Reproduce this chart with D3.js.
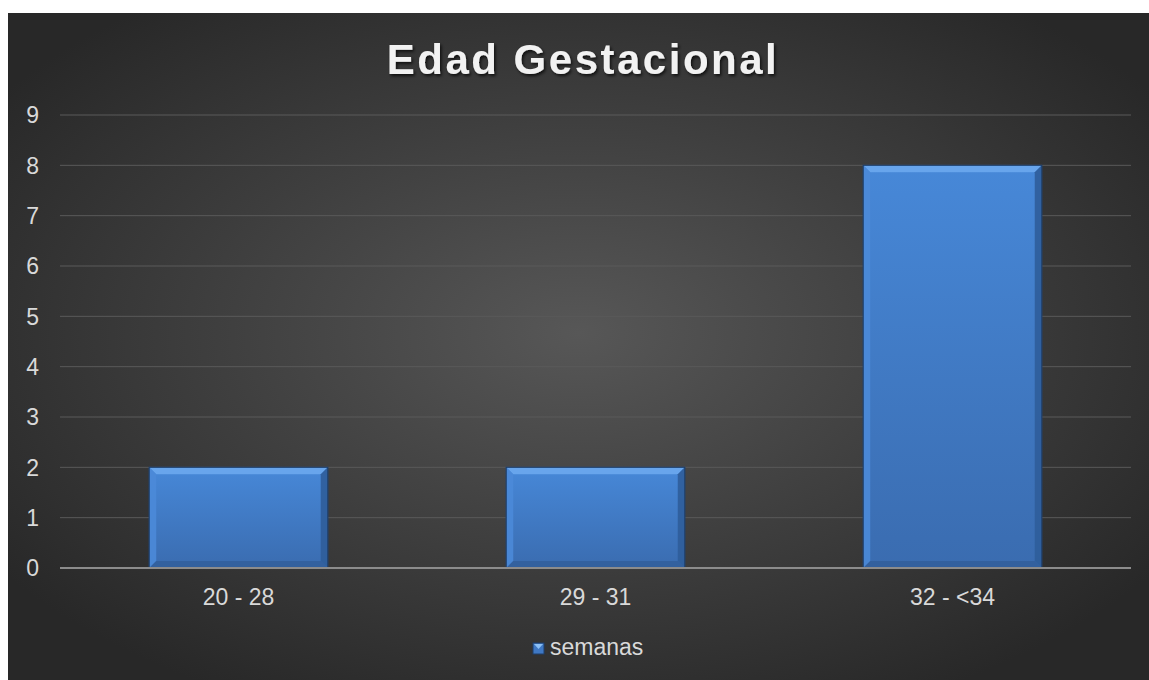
<!DOCTYPE html>
<html>
<head>
<meta charset="utf-8">
<script src="https://cdn.jsdelivr.net/npm/d3@7"></script>
<style>
  body { margin: 0; background: #fff; }
  svg { display: block; }
</style>
</head>
<body>
<div id="chart"></div>
<script>
const categories = ['20 - 28', '29 - 31', '32 - <34'];
const values = [2, 2, 8];
const yTicks = [0, 1, 2, 3, 4, 5, 6, 7, 8, 9];
const seriesName = 'semanas';
const title = 'Edad Gestacional';

const W = 1149, H = 680;
const box = { x: 8, y: 13, w: W - 8, h: H - 13 };
const plot = { left: 60, right: 1131, top: 115, bottom: 568 };
const font = 'Liberation Sans, Arial, sans-serif';

const svg = d3.select('#chart').append('svg').attr('width', W).attr('height', H);
const defs = svg.append('defs');

const bg = defs.append('radialGradient').attr('id', 'bg')
  .attr('cx', '50%').attr('cy', '48%').attr('r', '62%');
bg.append('stop').attr('offset', '0%').attr('stop-color', '#575757');
bg.append('stop').attr('offset', '100%').attr('stop-color', '#282828');

const barG = defs.append('linearGradient').attr('id', 'barFill').attr('x1', 0).attr('y1', 0).attr('x2', 0).attr('y2', 1);
barG.append('stop').attr('offset', '0%').attr('stop-color', '#4788d8');
barG.append('stop').attr('offset', '100%').attr('stop-color', '#3a6cb0');

const shadow = defs.append('filter').attr('id', 'tshadow').attr('x', '-10%').attr('y', '-30%').attr('width', '120%').attr('height', '160%');
shadow.append('feDropShadow').attr('dx', 1.5).attr('dy', 2).attr('stdDeviation', 1.5).attr('flood-color', '#000').attr('flood-opacity', 0.7);

svg.append('rect').attr('x', box.x).attr('y', box.y).attr('width', box.w).attr('height', box.h).attr('fill', 'url(#bg)');

const x = d3.scaleBand().domain(categories).range([plot.left, plot.right]);
const y = d3.scaleLinear().domain([0, 9]).range([plot.bottom, plot.top]);

// gridlines
svg.append('g').selectAll('line').data(yTicks.filter(d => d > 0)).join('line')
  .attr('x1', plot.left).attr('x2', plot.right)
  .attr('y1', d => y(d)).attr('y2', d => y(d))
  .attr('stroke', '#5a5a5a').attr('stroke-width', 1);

// y axis labels
svg.append('g').selectAll('text').data(yTicks).join('text')
  .attr('x', 39).attr('y', d => y(d)).attr('dy', '0.36em')
  .attr('text-anchor', 'end')
  .attr('font-family', font).attr('font-size', 23)
  .attr('fill', '#d9d9d9').text(d => d);

// bars
const bw = x.bandwidth() * 0.5;
const bevel = 7;
const bars = svg.append('g').selectAll('g').data(values).join('g')
  .attr('transform', (d, i) => `translate(${x(categories[i]) + (x.bandwidth() - bw) / 2},${y(d)})`);
bars.append('rect').attr('width', bw).attr('height', d => y(0) - y(d))
  .attr('fill', 'url(#barFill)').attr('stroke', '#2a4e7e').attr('stroke-width', 1);
// top bevel
bars.append('path').attr('d', d => `M0,0 L${bw},0 L${bw - bevel},${bevel} L${bevel},${bevel} Z`)
  .attr('fill', '#6faaf0').attr('opacity', 0.85);
// left bevel
bars.append('path').attr('d', d => { const h = y(0) - y(d); return `M0,0 L${bevel},${bevel} L${bevel},${h - bevel} L0,${h} Z`; })
  .attr('fill', '#4b8ad8').attr('opacity', 0.9);
// right bevel
bars.append('path').attr('d', d => { const h = y(0) - y(d); return `M${bw},0 L${bw - bevel},${bevel} L${bw - bevel},${h - bevel} L${bw},${h} Z`; })
  .attr('fill', '#2f5d9a').attr('opacity', 0.9);
// bottom bevel
bars.append('path').attr('d', d => { const h = y(0) - y(d); return `M0,${h} L${bevel},${h - bevel} L${bw - bevel},${h - bevel} L${bw},${h} Z`; })
  .attr('fill', '#335f9c').attr('opacity', 0.9);
bars.append('rect').attr('width', bw).attr('height', d => y(0) - y(d))
  .attr('fill', 'none').attr('stroke', '#1f3f6a').attr('stroke-width', 1);

// baseline
svg.append('line').attr('x1', plot.left).attr('x2', plot.right)
  .attr('y1', y(0)).attr('y2', y(0)).attr('stroke', '#8c8c8c').attr('stroke-width', 2);

// x labels
svg.append('g').selectAll('text').data(categories).join('text')
  .attr('x', d => x(d) + x.bandwidth() / 2).attr('y', 605)
  .attr('text-anchor', 'middle')
  .attr('font-family', font).attr('font-size', 23)
  .attr('fill', '#d9d9d9').text(d => d);

// title
svg.append('text').attr('x', 583).attr('y', 74).attr('text-anchor', 'middle')
  .attr('font-family', font).attr('font-weight', 'bold')
  .attr('font-size', 42).attr('letter-spacing', 2.5)
  .attr('fill', '#f2f2f2').attr('filter', 'url(#tshadow)').text(title);

// legend
const lg = svg.append('g').attr('transform', 'translate(533,643)');
lg.append('rect').attr('width', 11).attr('height', 11).attr('fill', '#3f78c4').attr('stroke', '#1f3f6a');
lg.append('path').attr('d', 'M1,1 L10,1 L5.5,6 Z').attr('fill', '#8cc0f5');
lg.append('text').attr('x', 17).attr('y', 12)
  .attr('font-family', font).attr('font-size', 23)
  .attr('fill', '#d9d9d9').text(seriesName);
</script>
</body>
</html>
